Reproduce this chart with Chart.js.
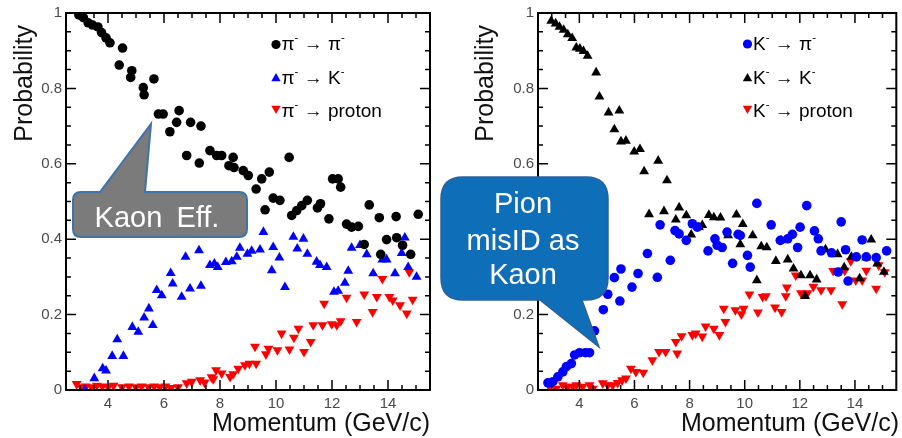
<!DOCTYPE html>
<html>
<head>
<meta charset="utf-8">
<script src="https://cdn.jsdelivr.net/npm/chart.js@4/dist/chart.umd.min.js"></script>
<style>
  body { margin: 0; background: #fff; }
  #wrap { position: relative; width: 902px; height: 438px; overflow: hidden; }
  .panel { position: absolute; top: 0; height: 438px; }
  #left { left: 0; width: 450px; }
  #right { left: 450px; width: 452px; }
  #callouts { position: absolute; left: 0; top: 0; pointer-events: none; }
  #callouts text { font-family: "Liberation Sans", Arial, Helvetica, sans-serif; fill: #fff; text-anchor: middle; }
</style>
</head>
<body>
<div id="wrap">
  <div class="panel" id="left"><canvas id="chartLeft"></canvas></div>
  <div class="panel" id="right"><canvas id="chartRight"></canvas></div>
  <svg id="callouts" width="902" height="438">
    <path d="M81 192 L100 192 L151 124 L145 192 L239 192 Q247 192 247 200 L247 229 Q247 237 239 237 L81 237 Q73 237 73 229 L73 200 Q73 192 81 192 Z"
          fill="#7b7b7b" stroke="#3f73ab" stroke-width="2"/>
    <text x="157" y="226.5" font-size="29" style="word-spacing:6px">Kaon Eff.</text>
    <path d="M463 177 L586 177 Q608 177 608 199 L608 278 Q608 300 586 300 L582 300 L599 347 L540 300 L463 300 Q441 300 441 278 L441 199 Q441 177 463 177 Z"
          fill="#0f6eb8" stroke="#2d6296" stroke-width="1.5"/>
    <text x="523" y="213" font-size="29">Pion</text>
    <text x="523" y="250" font-size="29">misID as</text>
    <text x="523" y="283.5" font-size="29">Kaon</text>
  </svg>
</div>
<script>
// axis ticks
const xTicks = [4, 6, 8, 10, 12, 14];
const yTicks = [0, 0.2, 0.4, 0.6, 0.8, 1];

// left panel: pi- beam  [momentum GeV/c, probability]
const piToPi = [[2.96,0.995],[3.12,0.988],[3.29,0.974],[3.45,0.968],[3.64,0.963],[3.77,0.948],[3.93,0.934],[4.07,0.921],
  [4.40,0.862],[4.52,0.907],[4.81,0.829],[4.85,0.847],[5.26,0.802],[5.29,0.783],[5.64,0.825],[5.80,0.732],[5.97,0.732],
  [6.21,0.685],[6.45,0.710],[6.54,0.741],[6.81,0.622],[6.95,0.710],[7.26,0.602],[7.32,0.700],[7.64,0.635],[7.88,0.622],
  [8.06,0.622],[8.32,0.595],[8.47,0.617],[8.50,0.590],[8.83,0.582],[9.01,0.569],[9.29,0.533],[9.49,0.560],[9.61,0.478],
  [9.76,0.578],[9.90,0.509],[10.14,0.503],[10.47,0.617],[10.56,0.463],[10.74,0.476],[10.92,0.489],[11.12,0.503],
  [11.48,0.483],[11.59,0.494],[11.89,0.454],[12.02,0.560],[12.22,0.560],[12.31,0.538],[12.52,0.440],[12.70,0.432],
  [12.94,0.434],[13.15,0.386],[13.33,0.491],[13.69,0.457],[13.74,0.360],[13.95,0.399],[14.29,0.460],[14.31,0.404],
  [14.52,0.384],[14.81,0.360],[15.08,0.466]];
const piToK = [[3.18,0.0],[3.51,0.031],[3.81,0.057],[3.93,0.051],[4.15,0.090],[4.33,0.134],[4.55,0.090],[4.87,0.167],
  [5.08,0.154],[5.29,0.192],[5.46,0.216],[5.60,0.172],[5.74,0.265],[5.92,0.251],[6.24,0.310],[6.31,0.282],[6.63,0.247],
  [6.77,0.353],[6.93,0.269],[7.25,0.370],[7.32,0.276],[7.64,0.331],[7.80,0.335],[7.92,0.326],[8.21,0.339],[8.42,0.341],
  [8.60,0.353],[8.71,0.377],[8.98,0.361],[9.13,0.369],[9.43,0.372],[9.55,0.419],[9.85,0.317],[9.90,0.379],[10.12,0.351],
  [10.32,0.273],[10.62,0.406],[10.76,0.375],[10.98,0.401],[11.12,0.361],[11.45,0.340],[11.57,0.331],[11.81,0.326],
  [12.07,0.260],[12.22,0.263],[12.46,0.284],[12.58,0.316],[12.70,0.377],[13.00,0.384],[13.24,0.360],[13.47,0.309],
  [13.80,0.346],[13.95,0.346],[14.25,0.309],[14.49,0.363],[14.60,0.404],[14.72,0.326],[15.02,0.300]];
const piToProton = [[2.88,0.016],[3.05,0.008],[3.20,0.010],[3.40,0.008],[3.60,0.012],[3.80,0.010],[4.00,0.008],
  [4.20,0.012],[4.50,0.008],[4.75,0.010],[5.00,0.008],[5.20,0.010],[5.45,0.008],[5.65,0.010],[5.85,0.008],[6.05,0.010],
  [6.25,0.006],[6.50,0.008],[6.81,0.018],[6.99,0.022],[7.29,0.026],[7.45,0.020],[7.70,0.034],[7.76,0.029],[7.86,0.053],
  [8.06,0.044],[8.36,0.035],[8.47,0.042],[8.65,0.057],[8.89,0.066],[9.05,0.070],[9.29,0.070],[9.25,0.115],[9.64,0.095],
  [9.73,0.110],[10.05,0.106],[10.20,0.150],[10.48,0.108],[10.64,0.139],[10.80,0.163],[11.00,0.101],[11.24,0.128],
  [11.33,0.172],[11.66,0.172],[11.72,0.229],[11.99,0.175],[12.17,0.172],[12.31,0.183],[12.52,0.245],[12.88,0.181],
  [13.15,0.254],[13.45,0.207],[13.60,0.247],[13.80,0.295],[14.05,0.247],[14.17,0.238],[14.43,0.225],[14.67,0.203],
  [14.76,0.313],[14.88,0.240]];

// right panel: K- beam
const kToPi = [[2.86,0.019],[3.04,0.022],[3.22,0.035],[3.40,0.048],[3.53,0.062],[3.71,0.070],[3.83,0.093],[4.01,0.099],
  [4.22,0.099],[4.37,0.099],[4.55,0.157],[4.87,0.213],[5.03,0.254],[5.27,0.298],[5.47,0.236],[5.51,0.321],[5.91,0.273],
  [6.13,0.309],[6.47,0.362],[6.83,0.299],[6.93,0.438],[7.30,0.344],[7.47,0.423],[7.62,0.414],[7.88,0.397],[8.10,0.441],
  [8.28,0.432],[8.67,0.369],[8.92,0.401],[9.00,0.384],[9.18,0.378],[9.36,0.419],[9.56,0.336],[9.76,0.413],[9.84,0.410],
  [10.10,0.357],[10.20,0.326],[10.44,0.495],[10.96,0.438],[11.29,0.397],[11.56,0.401],[11.73,0.413],[11.92,0.378],
  [12.01,0.432],[12.25,0.489],[12.53,0.422],[12.67,0.401],[12.77,0.369],[13.15,0.364],[13.39,0.313],[13.50,0.446],
  [13.66,0.372],[13.75,0.289],[14.05,0.353],[14.26,0.398],[14.41,0.353],[14.77,0.351],[15.15,0.369]];
const kToK = [[2.98,0.979],[3.14,0.972],[3.28,0.963],[3.43,0.955],[3.58,0.943],[3.74,0.933],[3.89,0.908],[4.02,0.905],
  [4.15,0.899],[4.30,0.886],[4.61,0.842],[4.73,0.778],[5.06,0.736],[5.27,0.691],[5.45,0.741],[5.51,0.659],[5.69,0.661],
  [5.99,0.632],[6.20,0.639],[6.35,0.580],[6.53,0.466],[6.86,0.608],[7.07,0.474],[7.18,0.556],[7.50,0.452],[7.62,0.484],
  [7.88,0.463],[8.06,0.412],[8.34,0.432],[8.46,0.437],[8.70,0.464],[8.88,0.458],[9.12,0.457],[9.40,0.410],[9.70,0.465],
  [9.84,0.386],[9.93,0.440],[10.29,0.410],[10.44,0.291],[10.60,0.381],[10.80,0.378],[11.13,0.342],[11.32,0.397],
  [11.56,0.346],[11.77,0.322],[12.04,0.304],[12.19,0.249],[12.37,0.304],[12.61,0.293],[12.93,0.373],[13.37,0.360],
  [13.61,0.325],[13.87,0.353],[14.17,0.296],[14.41,0.351],[14.59,0.399],[14.81,0.335],[15.05,0.313]];
const kToProton = [[2.92,0.009],[3.16,0.004],[3.40,0.013],[3.58,0.009],[3.76,0.009],[3.89,0.013],[4.12,0.009],
  [4.37,0.013],[4.49,0.004],[4.85,0.018],[5.03,0.013],[5.21,0.013],[5.39,0.019],[5.55,0.026],[5.69,0.031],[5.87,0.057],
  [6.05,0.048],[6.32,0.046],[6.65,0.079],[6.89,0.101],[7.13,0.101],[7.50,0.128],[7.55,0.097],[7.71,0.143],[8.10,0.146],
  [8.22,0.150],[8.46,0.142],[8.58,0.169],[8.88,0.163],[9.08,0.146],[9.24,0.216],[9.30,0.181],[9.66,0.212],[9.88,0.201],
  [9.96,0.216],[10.17,0.254],[10.48,0.206],[10.65,0.247],[10.77,0.249],[11.10,0.219],[11.34,0.207],[11.49,0.249],
  [11.53,0.272],[11.85,0.304],[12.04,0.257],[12.28,0.257],[12.49,0.274],[12.77,0.265],[13.13,0.265],[13.21,0.316],
  [13.54,0.228],[13.63,0.317],[13.85,0.342],[14.03,0.291],[14.26,0.291],[14.41,0.317],[14.77,0.269],[14.86,0.331],
  [15.08,0.313]];

const FONT = '"Liberation Sans", Arial, Helvetica, sans-serif';
Chart.defaults.font.family = FONT;

function drawMarker(ctx, style, color, x, y) {
  ctx.fillStyle = color;
  ctx.beginPath();
  if (style === 'circle') {
    ctx.arc(x, y, 4.6, 0, Math.PI * 2);
  } else {
    const r = 5.4, s = style === 'up' ? 1 : -1;
    ctx.moveTo(x, y - s * r);
    ctx.lineTo(x + r * 0.866, y + s * r / 2);
    ctx.lineTo(x - r * 0.866, y + s * r / 2);
    ctx.closePath();
  }
  ctx.fill();
}

// text parts starting with ^ are drawn as superscripts
function drawRich(ctx, parts, x, y, size) {
  ctx.textAlign = 'left';
  ctx.textBaseline = 'alphabetic';
  ctx.fillStyle = '#000';
  parts.forEach(p => {
    const sup = p[0] === '^';
    const t = sup ? p.slice(1) : p;
    ctx.font = (sup ? size * 0.6 : size) + 'px ' + FONT;
    ctx.fillText(t, x, sup ? y - size * 0.45 : y);
    x += ctx.measureText(t).width;
  });
}

const rootFrame = {
  id: 'rootFrame',
  afterDatasetsDraw(chart, args, opts) {
    const { ctx, chartArea: a, scales: { x, y } } = chart;
    ctx.save();
    ctx.strokeStyle = '#000';
    ctx.lineWidth = 1.5;
    ctx.beginPath();
    for (let v = 3; v < 15.5; v += 0.5) {
      const px = x.getPixelForValue(v);
      const len = v % 2 === 0 ? 10 : 5;
      ctx.moveTo(px, a.bottom); ctx.lineTo(px, a.bottom - len);
      ctx.moveTo(px, a.top); ctx.lineTo(px, a.top + len);
    }
    for (let i = 1; i < 20; i++) {
      const py = y.getPixelForValue(i * 0.05);
      const len = i % 4 === 0 ? 10 : 5;
      ctx.moveTo(a.left, py); ctx.lineTo(a.left + len, py);
      ctx.moveTo(a.right, py); ctx.lineTo(a.right - len, py);
    }
    ctx.stroke();
    ctx.lineWidth = 2;
    ctx.strokeRect(a.left, a.top, a.right - a.left, a.bottom - a.top);

    // axis titles
    ctx.fillStyle = '#111';
    ctx.font = '25px ' + FONT;
    ctx.textBaseline = 'alphabetic';
    ctx.textAlign = 'right';
    ctx.fillText('Momentum (GeV/c)', opts.xTitleRight, 431);
    ctx.translate(opts.yTitleX, 25);
    ctx.rotate(-Math.PI / 2);
    ctx.fillText('Probability', 0, 0);
    ctx.setTransform(1, 0, 0, 1, 0, 0);

    // legend
    opts.legend.forEach((e, i) => {
      drawMarker(ctx, e.style, e.color, opts.legendX, opts.legendMarkerY[i]);
      drawRich(ctx, e.parts, opts.legendX + 5.5, opts.legendTextY[i], 19);
    });
    ctx.restore();
  }
};

function series(points, color, style) {
  const circle = style === 'circle';
  return {
    data: points.map(([x, y]) => ({ x, y })),
    backgroundColor: color,
    borderWidth: 0,
    pointStyle: circle ? 'circle' : 'triangle',
    pointRadius: circle ? 4.8 : 5.7,
    pointRotation: style === 'down' ? 180 : 0
  };
}

function makeChart(id, datasets, frameOpts, yWidth, padRight) {
  const tickFont = { size: 15, family: FONT };
  return new Chart(document.getElementById(id), {
    type: 'scatter',
    data: { datasets },
    options: {
      responsive: true,
      maintainAspectRatio: false,
      animation: false,
      events: [],
      layout: { padding: { left: 0, right: padRight, top: 12, bottom: 0 } },
      plugins: { legend: { display: false }, tooltip: { enabled: false }, rootFrame: frameOpts },
      scales: {
        x: {
          type: 'linear', min: 2.5, max: 15.5,
          afterBuildTicks: s => { s.ticks = xTicks.map(v => ({ value: v })); },
          afterFit: s => { s.height = 48; },
          grid: { display: false, drawTicks: false },
          border: { display: false },
          ticks: { color: '#4a4a4a', font: tickFont, padding: 5, autoSkip: false, maxRotation: 0, callback: v => String(v) }
        },
        y: {
          type: 'linear', min: 0, max: 1,
          afterBuildTicks: s => { s.ticks = yTicks.map(v => ({ value: v })); },
          afterFit: s => { s.width = yWidth; },
          grid: { display: false, drawTicks: false },
          border: { display: false },
          ticks: { color: '#4a4a4a', font: tickFont, padding: 4, autoSkip: false, callback: v => String(v) }
        }
      }
    },
    plugins: [rootFrame]
  });
}

document.addEventListener('DOMContentLoaded', () => {
  makeChart('chartLeft', [
    series(piToPi, '#000000', 'circle'),
    series(piToK, '#0000ff', 'up'),
    series(piToProton, '#ff0000', 'down')
  ], {
    xTitleRight: 430, yTitleX: 31.5,
    legendX: 276, legendMarkerY: [44.5, 78.5, 108.5], legendTextY: [50, 84, 117],
    legend: [
      { style: 'circle', color: '#000', parts: ['π', '^-', ' → ', 'π', '^-'] },
      { style: 'up', color: '#0000ff', parts: ['π', '^-', ' → ', 'K', '^-'] },
      { style: 'down', color: '#ff0000', parts: ['π', '^-', ' → ', 'proton'] }
    ]
  }, 66, 20);

  makeChart('chartRight', [
    series(kToPi, '#0000ff', 'circle'),
    series(kToK, '#000000', 'up'),
    series(kToProton, '#ff0000', 'down')
  ], {
    xTitleRight: 449, yTitleX: 43,
    legendX: 297.5, legendMarkerY: [44, 78.5, 108.5], legendTextY: [50, 84, 117],
    legend: [
      { style: 'circle', color: '#0000ff', parts: ['K', '^-', ' → ', 'π', '^-'] },
      { style: 'up', color: '#000', parts: ['K', '^-', ' → ', 'K', '^-'] },
      { style: 'down', color: '#ff0000', parts: ['K', '^-', ' → ', 'proton'] }
    ]
  }, 88, 3);
});
</script>
</body>
</html>
